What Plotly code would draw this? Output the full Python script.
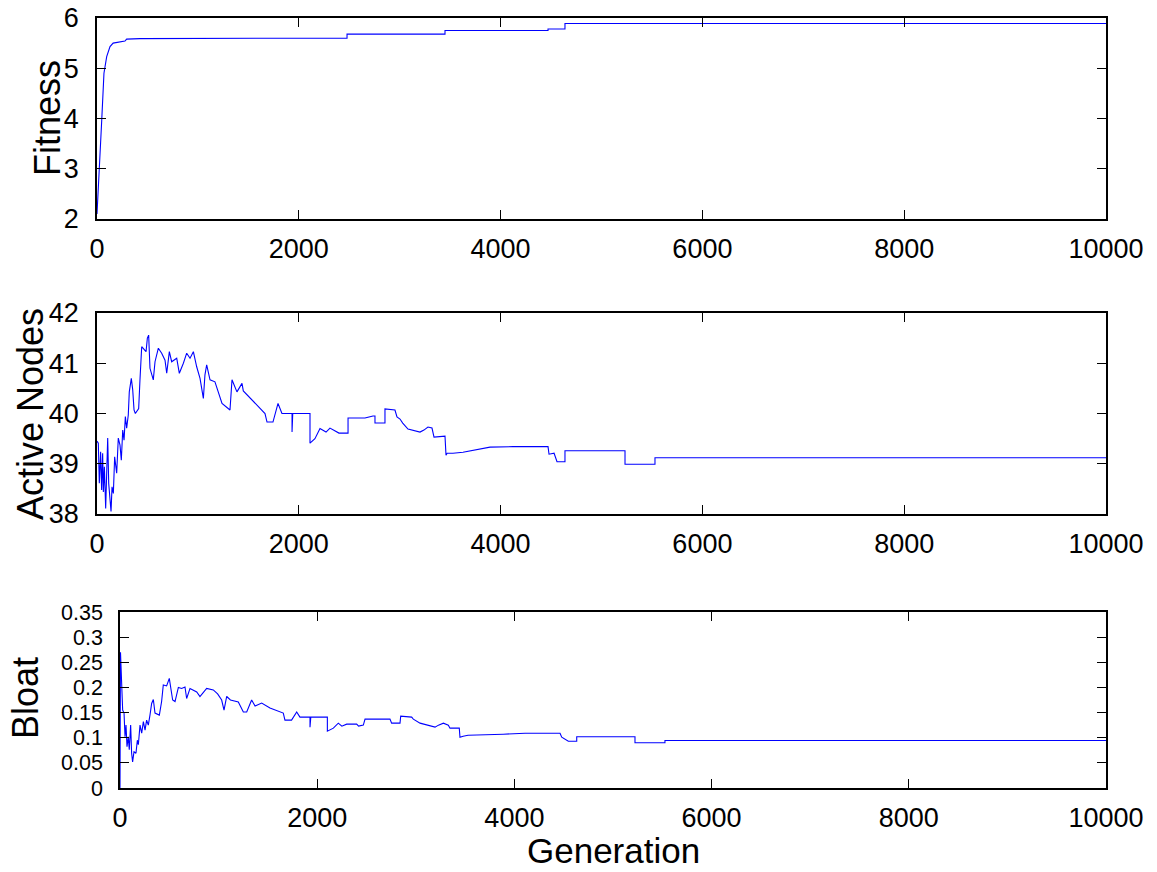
import plotly.graph_objects as go

# ---------------- data ----------------
fit_gen = [0, 10, 30, 47, 69, 96, 129, 160, 277, 294, 426, 1843, 1843, 2478, 2478,
           3449, 3449, 4470, 4470, 4638, 4638, 10000]
fit_val = [2.1, 2.5, 3.03, 3.97, 4.9, 5.23, 5.43, 5.5, 5.54, 5.58, 5.59, 5.59, 5.60, 5.60, 5.68,
           5.68, 5.75, 5.75, 5.78, 5.78, 5.89, 5.89]

act_gen = [0, 13, 23, 36, 46, 56, 63, 73, 86, 96, 106, 116, 129, 139, 149, 162, 175, 188, 195,
           211, 228, 241, 255, 268, 281, 294, 310, 320, 340, 354, 367, 380, 413, 426, 443, 486,
           499, 512, 525, 558, 575, 608, 641, 674, 691, 717, 740, 790, 816, 856, 889, 922, 955,
           988, 1021, 1054, 1070, 1087, 1120, 1169, 1212, 1239, 1318, 1338, 1387, 1437, 1450,
           1536, 1566, 1665, 1685, 1744, 1794, 1833, 1933, 1933, 1940, 2111, 2111, 2160, 2210,
           2270, 2309, 2398, 2488, 2488, 2656, 2735, 2755, 2755, 2854, 2854, 2953, 2973, 3003,
           3030, 3052, 3082, 3201, 3240, 3280, 3320, 3340, 3449, 3459, 3470, 3528, 3627, 3895,
           4123, 4470, 4480, 4530, 4559, 4638, 4638, 5233, 5233, 5530, 5530, 10000]
act_val = [39.45, 39.41, 38.61, 39.24, 38.48, 39.21, 38.44, 38.94, 38.11, 38.81, 39.51, 38.61,
           38.28, 38.05, 38.54, 38.41, 39.14, 38.94, 38.81, 39.51, 39.37, 39.07, 39.67, 39.47,
           39.94, 39.71, 39.97, 40.43, 40.7, 40.47, 40.07, 40.0, 40.1, 40.67, 41.33, 41.23, 41.5,
           41.56, 40.9, 40.67, 41.03, 41.3, 41.2, 41.06, 40.8, 41.23, 41.03, 41.1, 40.8, 41.0,
           41.2, 41.1, 41.23, 40.93, 40.7, 40.3, 40.77, 40.97, 40.67, 40.63, 40.37, 40.2, 40.07,
           40.67, 40.43, 40.6, 40.45, 40.27, 40.2, 40.0, 39.83, 39.83, 40.2, 40.0, 40.0, 39.63,
           40.0, 40.0, 39.41, 39.5, 39.7, 39.63, 39.71, 39.61, 39.61, 39.91, 39.91, 39.95, 39.95,
           39.81, 39.81, 40.09, 40.07, 39.93, 39.89, 39.81, 39.75, 39.69, 39.63, 39.67, 39.73,
           39.71, 39.53, 39.55, 39.17, 39.21, 39.21, 39.23, 39.33, 39.34, 39.34, 39.19, 39.21,
           39.04, 39.04, 39.26, 39.26, 38.99, 38.99, 39.12, 39.12]

bloat_gen = [0, 5, 27, 41, 51, 61, 71, 84, 94, 108, 118, 128, 142, 162, 176, 186, 203, 220, 237,
             254, 270, 287, 304, 321, 338, 355, 399, 422, 439, 473, 500, 517, 534, 558, 592, 625,
             659, 676, 710, 778, 811, 879, 946, 990, 1031, 1055, 1082, 1120, 1200, 1251, 1285,
             1335, 1370, 1437, 1521, 1656, 1673, 1740, 1792, 1825, 1927, 1927, 1935, 2103, 2103,
             2164, 2214, 2250, 2299, 2400, 2420, 2468, 2485, 2738, 2755, 2840, 2847, 2958, 2975,
             3043, 3195, 3230, 3280, 3330, 3347, 3441, 3448, 3480, 3530, 3888, 4108, 4463, 4480,
             4547, 4632, 4632, 5223, 5223, 5527, 5527, 10000]
bloat_val = [0.0, 0.27, 0.155, 0.149, 0.102, 0.125, 0.082, 0.102, 0.076, 0.125, 0.069, 0.052,
             0.072, 0.069, 0.095, 0.086, 0.125, 0.109, 0.132, 0.115, 0.135, 0.125, 0.145, 0.168,
             0.176, 0.149, 0.145, 0.172, 0.205, 0.203, 0.218, 0.195, 0.175, 0.172, 0.2, 0.198,
             0.201, 0.178, 0.198, 0.191, 0.182, 0.198, 0.195, 0.187, 0.175, 0.155, 0.182, 0.175,
             0.171, 0.151, 0.151, 0.175, 0.163, 0.169, 0.159, 0.149, 0.135, 0.135, 0.151, 0.141,
             0.141, 0.121, 0.141, 0.141, 0.113, 0.119, 0.129, 0.123, 0.127, 0.127, 0.123, 0.125,
             0.137, 0.137, 0.129, 0.129, 0.143, 0.141, 0.137, 0.129, 0.121, 0.125, 0.129, 0.125,
             0.119, 0.119, 0.101, 0.103, 0.105, 0.107, 0.109, 0.109, 0.101, 0.093, 0.093, 0.102,
             0.102, 0.09, 0.09, 0.0945, 0.0945]

x_ticks = [0, 2000, 4000, 6000, 8000, 10000]
x_ticktext = ["0", "2000", "4000", "6000", "8000", "10000"]
fit_ticks = [2, 3, 4, 5, 6]
act_ticks = [38, 39, 40, 41, 42]
bloat_ticks = [0, 0.05, 0.1, 0.15, 0.2, 0.25, 0.3, 0.35]
bloat_ticktext = ["0", "0.05", "0.1", "0.15", "0.2", "0.25", "0.3", "0.35"]

# ---------------- figure ----------------
W, H = 1157, 872
FONT = "Liberation Sans, Arial, sans-serif"
LINE = dict(color="#0000ff", width=1.1)

fig = go.Figure()
fig.add_trace(go.Scatter(x=fit_gen, y=fit_val, mode="lines", line=LINE, xaxis="x", yaxis="y",
                         showlegend=False))
fig.add_trace(go.Scatter(x=act_gen, y=act_val, mode="lines", line=LINE, xaxis="x2", yaxis="y2",
                         showlegend=False))
fig.add_trace(go.Scatter(x=bloat_gen, y=bloat_val, mode="lines", line=LINE, xaxis="x3", yaxis="y3",
                         showlegend=False))


def px_x(p):
    return p / W


def px_y(p):
    return 1 - p / H


common = dict(showline=True, linecolor="black", linewidth=1.5, mirror="ticks", ticks="inside",
              ticklen=9, tickwidth=1, tickcolor="black", showgrid=False, zeroline=False,
              automargin=False,
              tickfont=dict(family=FONT, size=27, color="black"))

def xax(anchor, left, right):
    return dict(common, domain=[px_x(left), px_x(right)], anchor=anchor, range=[0, 10000],
                tickvals=x_ticks, ticktext=x_ticktext, ticklabelstandoff=5)

def yax(anchor, top, bottom, rng, tv, tt=None, fsize=27):
    d = dict(common, domain=[px_y(bottom), px_y(top)], anchor=anchor, range=rng, tickvals=tv,
             ticklabelstandoff=11, tickfont=dict(family=FONT, size=fsize, color="black"))
    if tt is not None:
        d["ticktext"] = tt
    return d

def title(text, x, y, angle, size=36):
    return dict(text=text, x=px_x(x), y=px_y(y), xref="paper", yref="paper",
                xanchor="center", yanchor="middle", textangle=angle, showarrow=False,
                font=dict(family=FONT, size=size, color="black"))

fig.update_layout(
    template="none",
    width=W, height=H,
    margin=dict(l=0, r=0, t=0, b=0, pad=0),
    paper_bgcolor="white", plot_bgcolor="white",
    xaxis=xax("y", 97, 1106),
    yaxis=yax("x", 18, 219, [2, 6], fit_ticks),
    xaxis2=xax("y2", 97, 1106),
    yaxis2=yax("x2", 313, 514, [38, 42], act_ticks),
    xaxis3=xax("y3", 120, 1106),
    yaxis3=yax("x3", 612, 788, [0, 0.35], bloat_ticks, bloat_ticktext, fsize=21.5),
    annotations=[
        title("Fitness", 47, 118, -90),
        title("Active Nodes", 30, 414, -90),
        title("Bloat", 25, 698, -90),
        title("Generation", 613, 850, 0, size=35),
    ],
)

fig.write_html("out.html")
